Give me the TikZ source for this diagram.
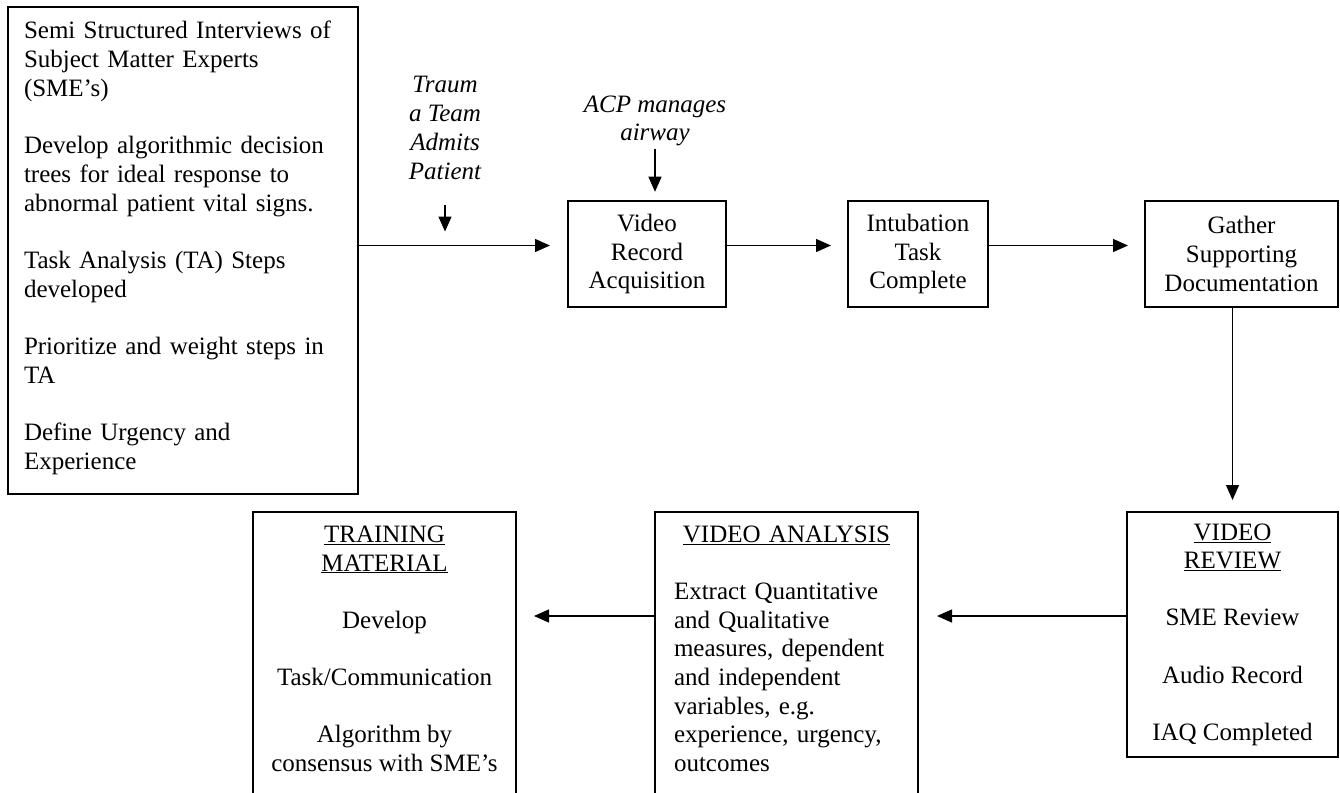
\documentclass[tikz,border=0pt]{standalone}
\usepackage{fontspec}
\setmainfont{Liberation Serif}
\usetikzlibrary{arrows.meta,calc}
\begin{document}
\begin{tikzpicture}[x=1pt,y=-1pt,
  every node/.style={inner sep=0pt, outer sep=0pt},
  base/.style={font=\fontsize{25}{28.6}\selectfont},
  box/.style={draw, line width=1.8pt, base},
  arr/.style={line width=1.3pt, -{Triangle[length=15pt,width=13pt]}},
  note/.style={font=\fontsize{25}{28.8}\selectfont\itshape, align=center}]
\clip (0,0) rectangle (1340,792);
\fill[white] (0,0) rectangle (1340,792);

% left box
\node[box, font=\fontsize{25}{28.7}\selectfont, anchor=north west, minimum width=350pt, minimum height=487pt,
      align=left, text width=318pt] (left) at (8,7)
 {\rule{0pt}{32pt}Semi Structured Interviews of\\Subject Matter Experts\\(SME’s)\\[28.7pt]%
  Develop algorithmic decision\\trees for ideal response to\\abnormal patient vital signs.\\[28.7pt]%
  Task Analysis (TA) Steps\\developed\\[28.7pt]%
  Prioritize and weight steps in\\TA\\[28.7pt]%
  Define Urgency and\\Experience\rule[-24.5pt]{0pt}{0pt}};

% top row
\node[box, minimum width=158pt, minimum height=106pt, align=center] (vra) at (647,254) {Video\\Record\\Acquisition};
\node[box, minimum width=140pt, minimum height=106pt, align=center] (int) at (918,254) {Intubation\\Task\\Complete};
\node[box, minimum width=193pt, minimum height=106pt, align=center] (gather) at (1241.5,254) {Gather\\Supporting\\Documentation};

% annotations
\node[note, anchor=north] (traum) at (445,76.5) {Traum\\a Team\\Admits\\Patient};
\node[note, anchor=north] (acp) at (655,95.5) {ACP manages\\airway};

% bottom row
\node[box, minimum width=211pt, minimum height=245pt, align=center] (vr) at (1232.5,634.5)
 {\underline{VIDEO}\\\underline{REVIEW}\\[28.6pt]SME Review\\[28.6pt]Audio Record\\[28.6pt]IAQ Completed};

\node[box, anchor=north west, minimum width=263pt, minimum height=300pt] (va) at (655,512) {};
\node[base, anchor=north, align=left, text width=225pt] (vatext) at ([yshift=-14pt]va.north)
 {\makebox[225pt][c]{\underline{VIDEO ANALYSIS}}\\[28.6pt]%
  Extract Quantitative\\and Qualitative\\measures, dependent\\and independent\\variables, e.g.\\experience, urgency,\\outcomes};

\node[box, anchor=north west, minimum width=263pt, minimum height=300pt] (tm) at (253,512) {};
\node[base, anchor=north, align=center] (tmtext) at ([yshift=-14pt]tm.north)
 {\underline{TRAINING}\\\underline{MATERIAL}\\[28.6pt]Develop\\[28.6pt]Task/Communication\\[28.6pt]Algorithm by\\consensus with SME’s};

% connectors
\coordinate (r1) at (0,245.5);
\coordinate (r2) at (0,616);
\draw[arr] (left.east |- r1) -- ([xshift=-18pt]vra.west |- r1);
\draw[arr] (vra.east |- r1) -- ([xshift=-17pt]int.west |- r1);
\draw[arr] (int.east |- r1) -- ([xshift=-17pt]gather.west |- r1);
\draw[arr] (vr.north |- gather.south) -- ([yshift=12pt]vr.north);
\draw[arr] (vr.west |- r2) -- ([xshift=19pt]va.east |- r2);
\draw[arr] (va.west |- r2) -- ([xshift=18pt]tm.east |- r2);
\draw[arr] ([yshift=-25pt]traum.south) -- ([yshift=-52pt]traum.south);
\draw[arr] ([yshift=-2.5pt]acp.south) -- ([yshift=-45.5pt]acp.south);
\end{tikzpicture}
\end{document}
